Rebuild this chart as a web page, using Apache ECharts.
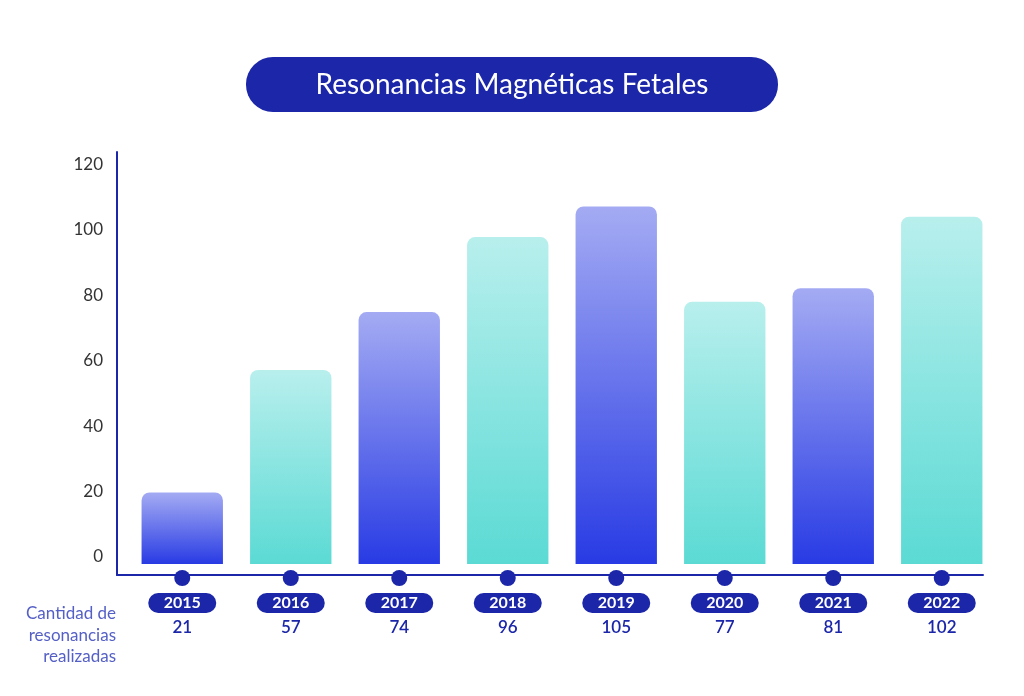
<!DOCTYPE html>
<html>
<head>
<meta charset="utf-8">
<script src="https://cdn.jsdelivr.net/npm/echarts@6/dist/echarts.min.js"></script>
<style>html,body{margin:0;padding:0;background:#fff;}#c{width:1024px;height:696px;}</style>
</head>
<body>
<div id="c"></div>
<script>
const years = ['2015','2016','2017','2018','2019','2020','2021','2022'];
const counts = [21, 57, 74, 96, 105, 77, 81, 102];
const yTicks = [0, 20, 40, 60, 80, 100, 120];
const titleText = 'Resonancias Magnéticas Fetales';
const sideNote = 'Cantidad de\nresonancias\nrealizadas';

const navy = '#1b26a8';
const blueGrad = new echarts.graphic.LinearGradient(0, 0, 0, 1, [
  {offset: 0, color: '#a4abf3'}, {offset: 1, color: '#283be4'}]);
const tealGrad = new echarts.graphic.LinearGradient(0, 0, 0, 1, [
  {offset: 0, color: '#b8efed'}, {offset: 1, color: '#5bdad4'}]);

const chart = echarts.init(document.getElementById('c'));
chart.setOption({
  animation: false,
  backgroundColor: '#ffffff',
  title: {
    left: 'center', top: 57, padding: 0,
    text: '{t|' + titleText + '}',
    textStyle: {
      rich: {
        t: {
          width: 532, height: 55, lineHeight: 55, align: 'center',
          backgroundColor: navy, borderRadius: 27,
          color: '#ffffff', fontSize: 28, fontFamily: 'Lato', fontWeight: 'normal'
        }
      }
    }
  },
  graphic: [{
    type: 'text', x: 116, y: 603,
    style: {
      text: sideNote, textAlign: 'right', textVerticalAlign: 'top',
      fill: '#5560c6', fontSize: 17, lineHeight: 21.5, fontFamily: 'Lato'
    }
  }],
  grid: [
    {left: 128, right: 28, top: 152, bottom: 121},
    {left: 117, right: 41, top: 152, bottom: 121}
  ],
  xAxis: [{
    type: 'category', data: years, gridIndex: 0,
    axisLine: {show: false, onZero: false},
    axisTick: {show: false},
    axisLabel: {
      margin: -5, interval: 0,
      formatter: function (v, i) { return '{dot|}\n{pill|' + v + '}\n{val|' + counts[i] + '}'; },
      rich: {
        dot: {width: 16, height: 16, lineHeight: 16, borderRadius: 8, backgroundColor: navy},
        pill: {width: 68, height: 20, lineHeight: 34, borderRadius: 10, backgroundColor: navy,
               color: '#ffffff', fontSize: 16, fontWeight: 'bold', fontFamily: 'Lato', align: 'center'},
        val: {lineHeight: 16, color: navy, fontSize: 17, fontWeight: 600, fontFamily: 'Lato', align: 'center'}
      }
    }
  }, {
    type: 'value', gridIndex: 1, min: 0, max: 1,
    axisLine: {show: true, onZero: false, lineStyle: {color: navy, width: 2}},
    axisTick: {show: false}, axisLabel: {show: false}, splitLine: {show: false}
  }],
  yAxis: [{
    type: 'value', gridIndex: 0, min: -3.23, max: 121, show: false, splitLine: {show: false}
  }, {
    type: 'value', gridIndex: 1, min: -5.5, max: 123.7, position: 'left',
    splitLine: {show: false}, axisTick: {show: false},
    axisLine: {show: true, onZero: false, lineStyle: {color: navy, width: 2}},
    axisLabel: {customValues: yTicks, margin: 14, color: '#333333', fontSize: 17, fontFamily: 'Lato'}
  }],
  series: [{
    type: 'bar', xAxisIndex: 0, yAxisIndex: 0, barWidth: '75%',
    data: counts.map(function (v, i) {
      return {value: v, itemStyle: {color: i % 2 === 0 ? blueGrad : tealGrad, borderRadius: [8, 8, 0, 0]}};
    })
  }]
});
</script>
</body>
</html>
